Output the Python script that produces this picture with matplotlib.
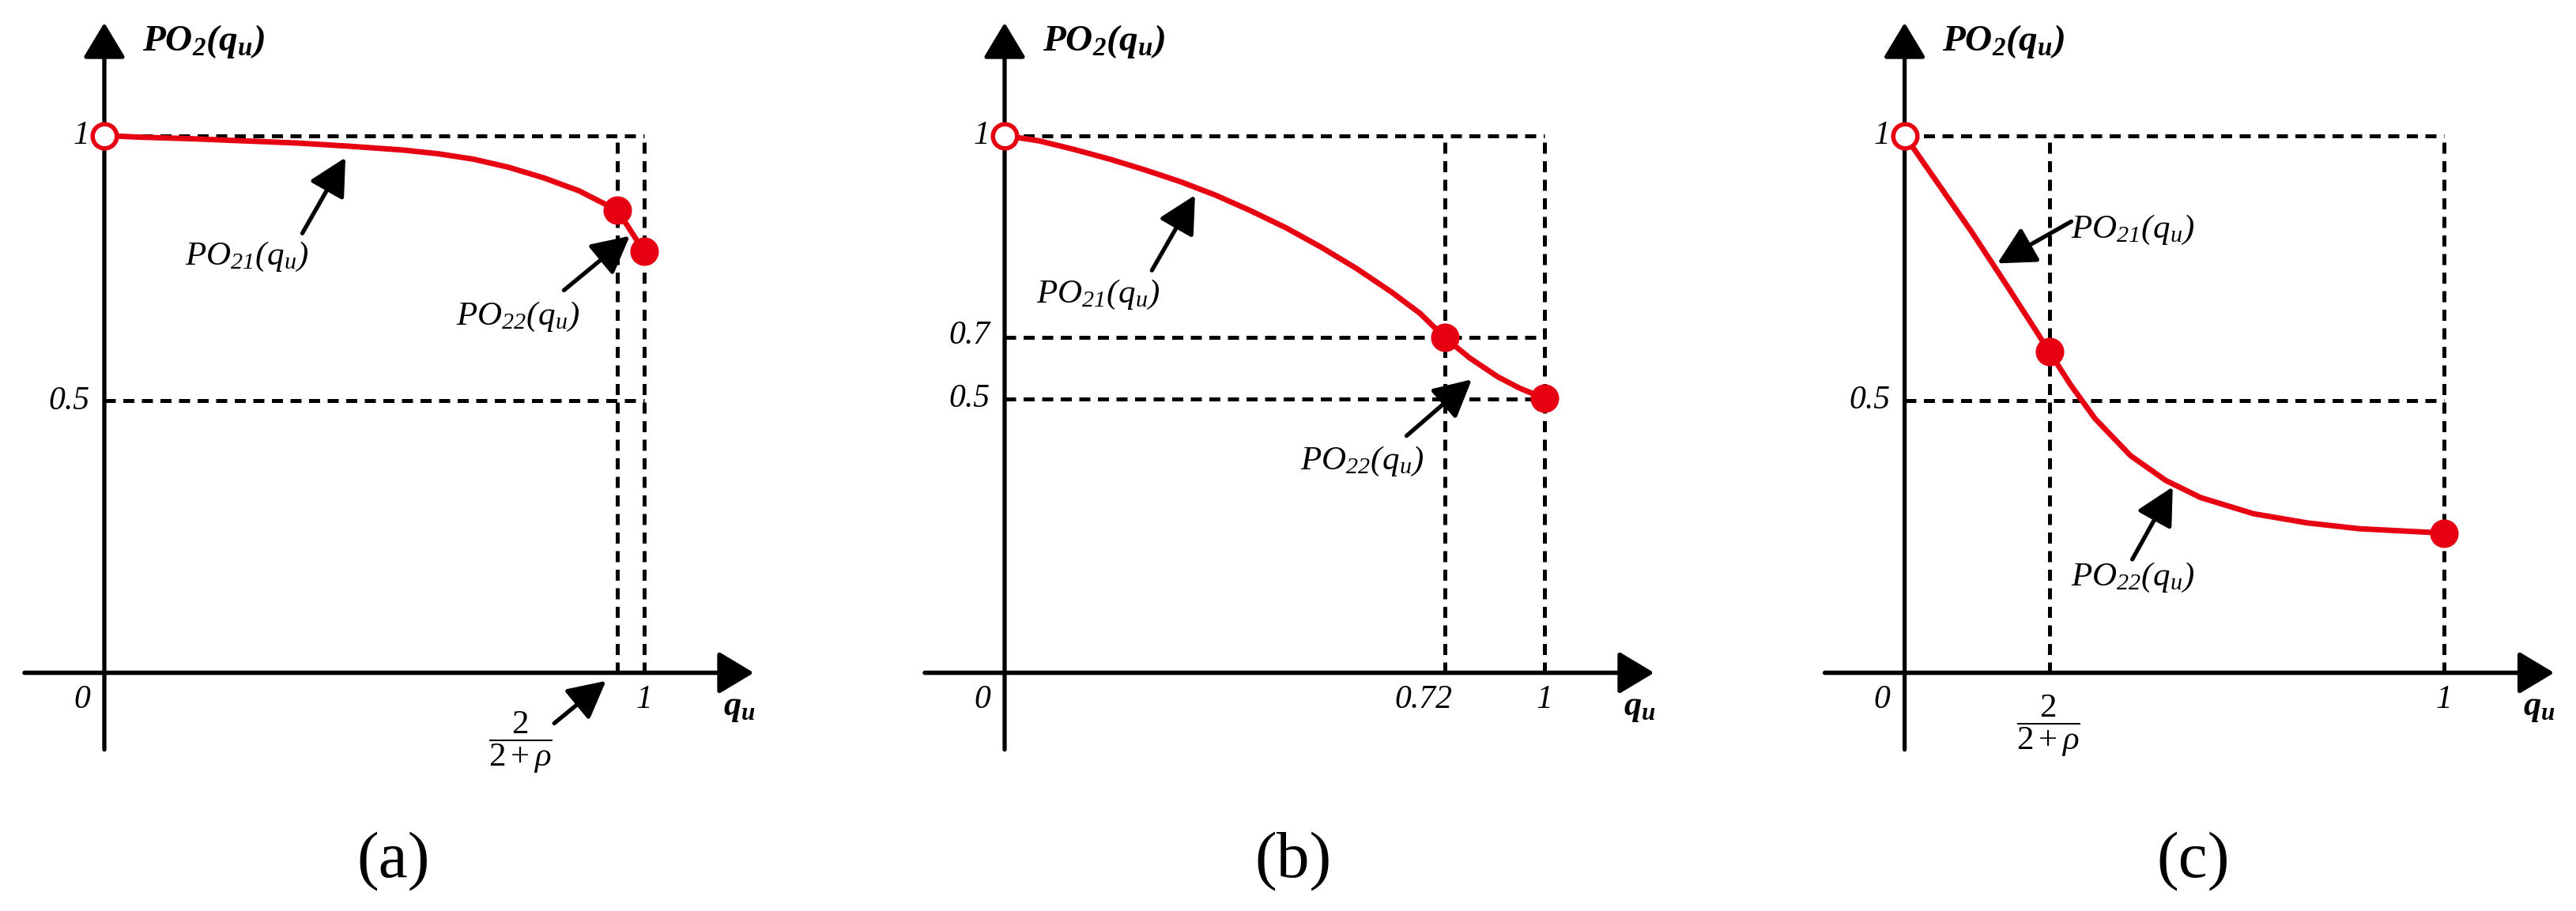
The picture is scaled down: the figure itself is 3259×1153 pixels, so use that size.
import matplotlib.pyplot as plt

plt.rcParams['font.family'] = ['Liberation Serif', 'DejaVu Serif']
plt.rcParams['mathtext.fontset'] = 'custom'
plt.rcParams['mathtext.rm'] = 'Liberation Serif'
plt.rcParams['mathtext.it'] = 'Liberation Serif:italic'
plt.rcParams['mathtext.default'] = 'regular'

RED = '#e60012'

# --- Data (drawing units: the "1" tick is 1.0 on both axes) ---
# Panel (a)
a_q21 = [0.0, 0.063, 0.161, 0.259, 0.357, 0.455, 0.553, 0.619, 0.684, 0.749, 0.815, 0.880, 0.919, 0.951]
a_po21 = [1.0, 0.997, 0.994, 0.990, 0.986, 0.980, 0.973, 0.966, 0.956, 0.941, 0.921, 0.897, 0.877, 0.861]
a_q22 = [0.951, 1.0]
a_po22 = [0.861, 0.785]
a_vlines = [0.951, 1.0]
a_hlines = [1.0, 0.506]
a_xticks = [1.0]
a_xlabels = ['1']
a_yticks = [1.0, 0.506]
a_ylabels = ['1', '0.5']

# Panel (b)
b_q21 = [0.0, 0.064, 0.129, 0.195, 0.260, 0.326, 0.391, 0.456, 0.522, 0.587, 0.653, 0.718, 0.770, 0.816]
b_po21 = [1.0, 0.990, 0.974, 0.956, 0.936, 0.914, 0.889, 0.860, 0.828, 0.792, 0.752, 0.708, 0.669, 0.624]
b_q22 = [0.816, 0.862, 0.914, 0.954, 1.0]
b_po22 = [0.624, 0.586, 0.551, 0.530, 0.511]
b_vlines = [0.816, 1.0]
b_hlines = [1.0, 0.624, 0.510]
b_xticks = [0.776, 1.0]
b_xlabels = ['0.72', '1']
b_yticks = [1.0, 0.627, 0.510]
b_ylabels = ['1', '0.7', '0.5']

# Panel (c)
c_q21 = [0.0, 0.124, 0.190, 0.242, 0.268]
c_po21 = [1.0, 0.821, 0.720, 0.639, 0.598]
c_q22 = [0.268, 0.307, 0.353, 0.419, 0.484, 0.549, 0.647, 0.746, 0.844, 0.942, 1.0]
c_po22 = [0.598, 0.537, 0.473, 0.404, 0.358, 0.326, 0.296, 0.279, 0.268, 0.263, 0.260]
c_vlines = [0.268, 1.0]
c_hlines = [1.0, 0.507]
c_xticks = [1.0]
c_xlabels = ['1']
c_yticks = [1.0, 0.507]
c_ylabels = ['1', '0.5']

W, H = 3259, 1153
UX, UY = 682.5, 680.0
XLIM = (-0.2, 1.3)
YLIM = (-0.44, 1.25)

fig = plt.figure(figsize=(W / 100, H / 100), dpi=100)


def make_axes(ox, oy):
    # place an axes so that data (0, 0) sits at pixel (ox, oy) measured from top-left
    left = ox + XLIM[0] * UX
    top = oy - YLIM[1] * UY
    w = (XLIM[1] - XLIM[0]) * UX
    h = (YLIM[1] - YLIM[0]) * UY
    ax = fig.add_axes([left / W, (H - top - h) / H, w / W, h / H])
    ax.set_xlim(*XLIM)
    ax.set_ylim(*YLIM)
    ax.axis('off')
    return ax


def arrow(ax, tail, head, lw=3.8, hl=0.5, hw=0.26, ms=58):
    ax.annotate('', xy=head, xytext=tail, annotation_clip=False,
                arrowprops=dict(arrowstyle=f'-|>,head_length={hl},head_width={hw}',
                                mutation_scale=ms, lw=lw, color='k',
                                shrinkA=0, shrinkB=0))


def draw_panel(ax, q21, po21, q22, po22, vlines, hlines, xticks, xlabels,
               yticks, ylabels, letter):
    # axes with arrow heads
    arrow(ax, (-0.148, 0), (1.204, 0), lw=4.0, hl=0.5, hw=0.3, ms=55)
    arrow(ax, (0, -0.143), (0, 1.21), lw=3.8, hl=0.5, hw=0.3, ms=55)

    # dashed guide lines
    ax.vlines(vlines, 0, 1.0, colors='k', lw=3.6, linestyles=(0, (2.8, 1.9)), zorder=2)
    ax.hlines(hlines, 0, 1.0, colors='k', lw=3.6, linestyles=(0, (2.8, 1.9)), zorder=2)

    # the two pieces of PO2
    ax.plot(q21, po21, color=RED, lw=5.0, solid_capstyle='round',
            solid_joinstyle='round', zorder=4)
    ax.plot(q22, po22, color=RED, lw=5.0, solid_capstyle='round',
            solid_joinstyle='round', zorder=4)
    ax.plot(q21[0], po21[0], 'o', ms=22, mfc='white', mec=RED, mew=4.0, zorder=5)
    ax.plot([q22[0], q22[-1]], [po22[0], po22[-1]], 'o', ms=25, color=RED, zorder=5)

    # tick labels
    ax.text(-0.042, -0.05, '0', fontsize=30, style='italic', ha='center', va='center')
    for x, lab in zip(xticks, xlabels):
        ax.text(x, -0.05, lab, fontsize=30, style='italic', ha='center', va='center')
    for y, lab in zip(yticks, ylabels):
        ax.text(-0.027, y, lab, fontsize=30, style='italic', ha='right', va='center')

    # axis titles
    ax.text(1.177, -0.066, r'$q_u$', fontsize=32, style='italic', weight='bold',
            ha='center', va='center')
    ax.text(0.070, 1.175, r'$PO_2(q_u)$', fontsize=34, style='italic', weight='bold',
            ha='left', va='center')
    ax.text(0.535, -0.351, letter, fontsize=60, ha='center', va='center')


frac = r'$\dfrac{2}{2+\mathit{\rho}}$'
LBL = 31
FRAC = 31

# --- (a) ---
ax_a = make_axes(132, 851.5)
draw_panel(ax_a, a_q21, a_po21, a_q22, a_po22, a_vlines, a_hlines,
           a_xticks, a_xlabels, a_yticks, a_ylabels, '(a)')
ax_a.text(0.264, 0.775, r'$PO_{21}(q_u)$', fontsize=LBL, style='italic', ha='center', va='center')
arrow(ax_a, (0.367, 0.818), (0.447, 0.959))
ax_a.text(0.766, 0.662, r'$PO_{22}(q_u)$', fontsize=LBL, style='italic', ha='center', va='center')
arrow(ax_a, (0.852, 0.712), (0.974, 0.813))
ax_a.text(0.771, -0.130, frac, fontsize=FRAC, ha='center', va='center')
arrow(ax_a, (0.834, -0.094), (0.930, -0.015))

# --- (b) ---
ax_b = make_axes(1271, 851.5)
draw_panel(ax_b, b_q21, b_po21, b_q22, b_po22, b_vlines, b_hlines,
           b_xticks, b_xlabels, b_yticks, b_ylabels, '(b)')
ax_b.text(0.173, 0.704, r'$PO_{21}(q_u)$', fontsize=LBL, style='italic', ha='center', va='center')
arrow(ax_b, (0.273, 0.749), (0.353, 0.889))
ax_b.text(0.663, 0.393, r'$PO_{22}(q_u)$', fontsize=LBL, style='italic', ha='center', va='center')
arrow(ax_b, (0.745, 0.441), (0.866, 0.546))

# --- (c) ---
ax_c = make_axes(2409.6, 851.5)
draw_panel(ax_c, c_q21, c_po21, c_q22, c_po22, c_vlines, c_hlines,
           c_xticks, c_xlabels, c_yticks, c_ylabels, '(c)')
ax_c.text(0.423, 0.825, r'$PO_{21}(q_u)$', fontsize=LBL, style='italic', ha='center', va='center')
arrow(ax_c, (0.309, 0.840), (0.172, 0.762))
ax_c.text(0.423, 0.177, r'$PO_{22}(q_u)$', fontsize=LBL, style='italic', ha='center', va='center')
arrow(ax_c, (0.422, 0.211), (0.497, 0.346))
ax_c.text(0.266, -0.099, frac, fontsize=FRAC, ha='center', va='center')

fig.savefig('out.png', dpi=100, facecolor='white')
